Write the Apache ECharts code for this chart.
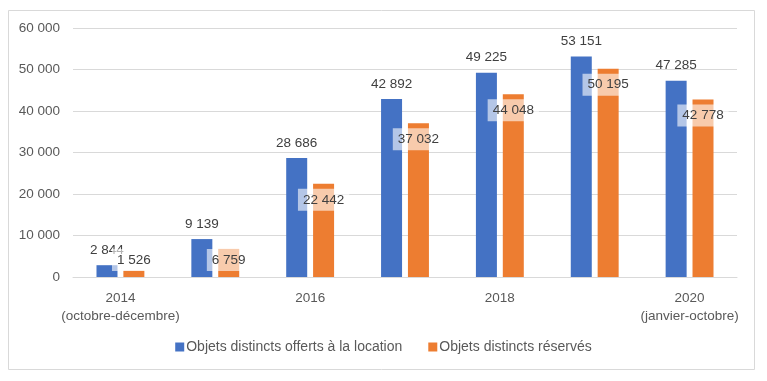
<!DOCTYPE html>
<html>
<head>
<meta charset="utf-8">
<script src="https://cdn.jsdelivr.net/npm/echarts@6/dist/echarts.min.js"></script>
<style>
html,body{margin:0;padding:0;background:#fff;}
#c{width:767px;height:381px;}
</style>
</head>
<body>
<div id="c"></div>
<script>
var categories = ['2014\n(octobre-décembre)', '2015', '2016', '2017', '2018', '2019', '2020\n(janvier-octobre)'];
var offerts = [2844, 9139, 28686, 42892, 49225, 53151, 47285];
var reserves = [1526, 6759, 22442, 37032, 44048, 50195, 42778];
var seriesNames = ['Objets distincts offerts à la location', 'Objets distincts réservés'];
var yTicks = {min: 0, max: 60000, interval: 10000};

function fmt(v) {
  return String(v).replace(/\B(?=(\d{3})+(?!\d))/g, ' ');
}

var FONT = '"Liberation Sans", "DejaVu Sans", sans-serif';
var FS = 13.5;
var chart = echarts.init(document.getElementById('c'), null, {renderer: 'canvas'});

var orangeData = reserves.map(function (v) {
  var small = v < 10000;
  return {
    value: v,
    label: {
      position: small ? 'insideBottom' : 'insideTop',
      distance: small ? 6 : 5
    }
  };
});

chart.setOption({
  animation: false,
  backgroundColor: '#fff',
  textStyle: {fontFamily: FONT},
  graphic: [{
    type: 'rect',
    shape: {x: 8.5, y: 10.5, width: 746, height: 359},
    style: {fill: 'none', stroke: '#d9d9d9', lineWidth: 1},
    silent: true,
    z: -10
  }],
  grid: {left: 73, right: 30, top: 28, bottom: 104, containLabel: false},
  legend: {
    bottom: 22,
    left: 'center',
    itemWidth: 9,
    itemHeight: 9,
    itemGap: 26,
    icon: 'rect',
    textStyle: {fontFamily: FONT, fontSize: 14, color: '#595959', padding: [0, 0, 0, -3]},
    data: seriesNames
  },
  xAxis: {
    type: 'category',
    data: categories,
    axisLine: {show: true, lineStyle: {color: '#d9d9d9', width: 1}},
    axisTick: {show: false},
    axisLabel: {
      interval: 1,
      color: '#595959',
      fontFamily: FONT,
      fontSize: FS,
      lineHeight: 18,
      margin: 12
    }
  },
  yAxis: {
    type: 'value',
    min: yTicks.min,
    max: yTicks.max,
    interval: yTicks.interval,
    axisLine: {show: false},
    axisTick: {show: false},
    splitLine: {lineStyle: {color: '#d9d9d9', width: 1}},
    axisLabel: {
      color: '#595959',
      fontFamily: FONT,
      fontSize: FS,
      margin: 13,
      formatter: fmt
    }
  },
  series: [
    {
      name: seriesNames[0],
      type: 'bar',
      data: offerts,
      barWidth: 21,
      barGap: '28%',
      itemStyle: {color: '#4472C4'},
      label: {
        show: true,
        position: 'top',
        distance: 8,
        color: '#404040',
        fontFamily: FONT,
        fontSize: FS,
        formatter: function (p) { return fmt(p.value); }
      }
    },
    {
      name: seriesNames[1],
      type: 'bar',
      data: orangeData,
      barWidth: 21,
      itemStyle: {color: '#ED7D31'},
      z: 3,
      label: {
        show: true,
        color: '#404040',
        fontFamily: FONT,
        fontSize: FS,
        backgroundColor: 'rgba(255,255,255,0.6)',
        padding: [4, 5, 4, 5],
        formatter: function (p) { return fmt(p.value); }
      }
    }
  ]
});
</script>
</body>
</html>
